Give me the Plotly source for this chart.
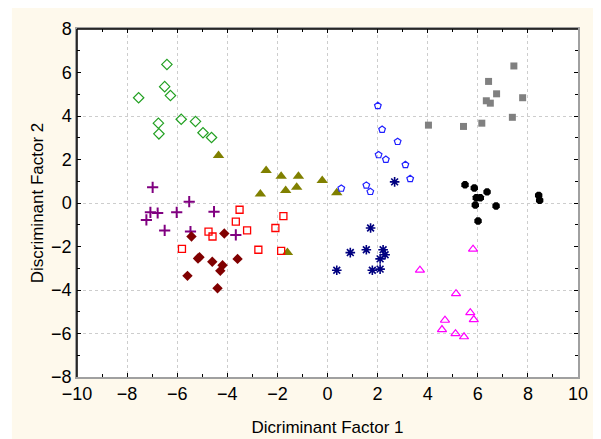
import plotly.graph_objects as go

# Discriminant scores per group (Factor 1, Factor 2)
green_x = [-6.41, -6.50, -6.27, -7.54, -6.75, -6.73, -5.84, -5.27, -4.97, -4.63]
green_y = [6.37, 5.35, 4.94, 4.84, 3.67, 3.18, 3.85, 3.75, 3.23, 3.01]

olive_x = [-4.35, -2.45, -1.85, -1.16, -0.21, -2.68, -1.67, -1.23, -1.60, 0.37]
olive_y = [2.18, 1.50, 1.23, 1.23, 1.04, 0.41, 0.58, 0.72, -2.28, 0.47]

purple_x = [-6.98, -5.52, -7.07, -6.78, -6.02, -7.23, -4.53, -6.50, -5.47, -3.66]
purple_y = [0.72, 0.06, -0.43, -0.46, -0.43, -0.78, -0.40, -1.26, -1.31, -1.47]

darkred_x = [-5.43, -4.12, -5.17, -5.11, -4.60, -4.19, -3.59, -4.28, -5.59, -4.39]
darkred_y = [-1.54, -1.40, -2.55, -2.49, -2.70, -2.86, -2.57, -3.12, -3.35, -3.92]

red_x = [-3.51, -3.66, -4.75, -4.59, -3.21, -5.81, -2.76, -1.76, -2.08, -1.85]
red_y = [-0.31, -0.86, -1.32, -1.54, -1.26, -2.11, -2.15, -0.60, -1.15, -2.20]

blue_x = [2.01, 2.18, 2.80, 2.04, 2.33, 3.11, 3.30, 0.55, 1.55, 1.71]
blue_y = [4.47, 3.38, 2.82, 2.21, 2.00, 1.76, 1.11, 0.67, 0.81, 0.52]

navy_x = [2.68, 1.72, 0.91, 1.55, 2.22, 2.30, 2.10, 0.37, 1.79, 2.10]
navy_y = [0.97, -1.15, -2.28, -2.15, -2.15, -2.38, -2.57, -3.09, -3.09, -3.04]

magenta_x = [5.81, 3.69, 5.13, 5.70, 5.84, 4.69, 4.57, 5.11, 5.45]
magenta_y = [-2.12, -3.09, -4.17, -5.04, -5.36, -5.39, -5.82, -6.01, -6.15]

black_x = [5.49, 5.86, 6.37, 5.94, 6.10, 5.90, 6.73, 6.01, 8.43, 8.47]
black_y = [0.84, 0.69, 0.51, 0.24, 0.24, -0.09, -0.14, -0.83, 0.35, 0.12]

grey_x = [7.44, 6.43, 6.75, 6.34, 6.50, 7.79, 7.38, 4.03, 5.43, 6.16]
grey_y = [6.30, 5.59, 5.02, 4.70, 4.59, 4.84, 3.94, 3.58, 3.52, 3.67]

x_ticks = [-10, -8, -6, -4, -2, 0, 2, 4, 6, 8, 10]
y_ticks = [-8, -6, -4, -2, 0, 2, 4, 6, 8]
y_grid = [-6, -4, 0, 4]

FONT = "Arial, Liberation Sans, sans-serif"
CREAM = "#FEF9EC"

groups = [
    (green_x, green_y, "diamond-open", "#22A022", 8, 1.2),
    (olive_x, olive_y, "triangle-up", "#808000", 10, 0),
    (purple_x, purple_y, "cross-thin-open", "#800080", 8, 2),
    (darkred_x, darkred_y, "diamond", "#800000", 8, 0),
    (red_x, red_y, "square-open", "#FF0000", 7, 1.3),
    (blue_x, blue_y, "pentagon-open", "#2020FF", 7, 1.2),
    (navy_x, navy_y, "asterisk-open", "#000080", 8, 1.6),
    (magenta_x, magenta_y, "triangle-up-open", "#FF00FF", 8, 1.2),
    (black_x, black_y, "octagon", "#000000", 8, 0),
    (grey_x, grey_y, "square", "#808080", 7, 0),
]

fig = go.Figure()
for gx, gy, sym, col, sz, lw in groups:
    marker = dict(symbol=sym, size=sz, color=col)
    if lw:
        marker["line"] = dict(color=col, width=lw)
    fig.add_trace(go.Scatter(x=gx, y=gy, mode="markers", marker=marker,
                             showlegend=False, hoverinfo="x+y"))

# invisible trace to carry secondary y axis (for the sparse horizontal grid)
fig.add_trace(go.Scatter(x=[None], y=[None], yaxis="y2", showlegend=False))

fig.update_layout(
    width=593, height=431,
    margin=dict(l=69, r=23, t=21, b=62),
    paper_bgcolor=CREAM,
    plot_bgcolor="white",
    font=dict(family=FONT, size=17, color="black"),
    xaxis=dict(
        range=[-10, 10], tickvals=x_ticks, ticks="inside", ticklen=4,
        tickcolor="black", showline=True, linecolor="#A0A0A0", linewidth=1.5,
        mirror="ticks", showgrid=True, gridcolor="#CDCDCD", griddash="dot",
        gridwidth=1, zeroline=False, automargin=False,
        minor=dict(dtick=1, ticks="inside", ticklen=3, tickcolor="black", showgrid=False),
        title=dict(text="Dicriminant Factor 1", font=dict(size=17), standoff=18),
        tickfont=dict(size=18),
    ),
    yaxis=dict(
        range=[-8, 8], tickvals=y_ticks, ticks="inside", ticklen=4,
        tickcolor="black", showline=True, linecolor="#A0A0A0", linewidth=1.5,
        mirror="ticks", showgrid=False, zeroline=False,
        minor=dict(dtick=1, ticks="inside", ticklen=3, tickcolor="black", showgrid=False),
        title=dict(text="Discriminant Factor 2", font=dict(size=17), standoff=3),
        tickfont=dict(size=18),
    ),
    yaxis2=dict(
        range=[-8, 8], overlaying="y", tickvals=y_grid, showticklabels=False,
        ticks="", showgrid=True, gridcolor="#CDCDCD", griddash="dot",
        gridwidth=1, zeroline=False, showline=False,
    ),
    shapes=[
        # white strip left of the cream panel
        dict(type="rect", xref="paper", yref="paper", x0=-0.2, x1=-0.13, y0=-0.3, y1=1.2,
             fillcolor="white", line=dict(width=0), layer="below"),
        # dark top and left frame lines
        dict(type="line", xref="paper", yref="paper", x0=0, x1=1, y0=1, y1=1,
             line=dict(color="black", width=1.5)),
        dict(type="line", xref="paper", yref="paper", x0=0, x1=0, y0=0, y1=1,
             line=dict(color="black", width=1.5)),
    ],
)

fig.write_html("out.html")
